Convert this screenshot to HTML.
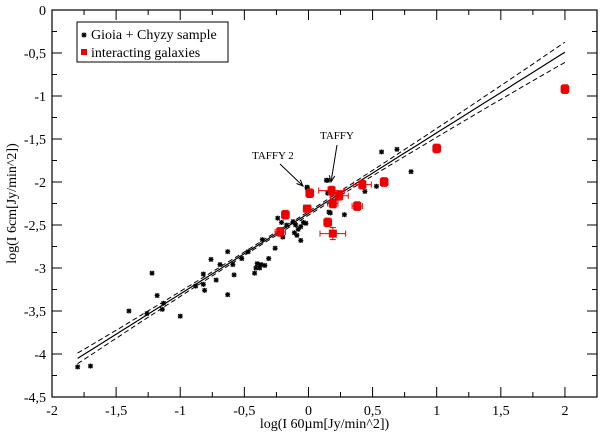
<!DOCTYPE html>
<html><head><meta charset="utf-8"><style>
body{margin:0;background:#fff;}
svg{display:block;}
text{font-family:"Liberation Serif","DejaVu Serif",serif;}
</style></head><body>
<svg id="chart" width="600" height="433" viewBox="0 0 600 433" font-family="Liberation Serif, serif"></svg>
<script>
const xTicks=[-2,-1.5,-1,-0.5,0,0.5,1,1.5,2];
const xTickLabels=["-2","-1,5","-1","-0,5","0","0,5","1","1,5","2"];
const yTicks=[0,-0.5,-1,-1.5,-2,-2.5,-3,-3.5,-4,-4.5];
const yTickLabels=["0","-0,5","-1","-1,5","-2","-2,5","-3","-3,5","-4","-4,5"];
const sampleX=[-1.80,-1.70,-1.40,-1.22,-1.18,-1.26,-1.13,-1.14,-1.00,-0.88,-0.82,-0.81,-0.82,-0.76,-0.72,-0.69,-0.63,-0.63,-0.59,-0.58,-0.52,-0.47,-0.42,-0.40,-0.41,-0.38,-0.37,-0.34,-0.31,-0.36,-0.26,-0.24,-0.21,-0.20,-0.17,-0.12,-0.11,-0.09,-0.06,-0.04,-0.02,-0.01,0.14,0.15,0.17,0.57,0.69,0.80,0.53,0.44,0.28,0.16,0.15,-0.01,-0.06,-0.08,-0.10];
const sampleY=[-4.15,-4.14,-3.50,-3.06,-3.32,-3.53,-3.41,-3.48,-3.56,-3.21,-3.19,-3.26,-3.07,-2.90,-3.14,-2.96,-2.81,-3.31,-2.96,-3.08,-2.89,-2.81,-3.06,-2.95,-3.00,-3.00,-2.96,-2.97,-2.89,-2.67,-2.77,-2.42,-2.47,-2.64,-2.50,-2.46,-2.59,-2.62,-2.68,-2.47,-2.48,-2.06,-1.98,-2.13,-2.36,-1.65,-1.62,-1.88,-2.05,-2.11,-2.38,-2.35,-1.98,-2.07,-2.52,-2.55,-2.50];
const interX=[0.01,0.18,0.24,0.19,0.42,0.59,1.00,0.38,-0.01,-0.18,-0.22,0.15,0.19,2.00];
const interY=[-2.13,-2.10,-2.16,-2.25,-2.03,-2.00,-1.61,-2.28,-2.31,-2.38,-2.58,-2.47,-2.60,-0.92];
const interXErr=[0.03,0.10,0.07,0.04,0.07,0.03,0.03,0.04,0.03,0.03,0.04,0.03,0.10,0.03];
const interYErr=[0.05,0.05,0.05,0.05,0.05,0.05,0.05,0.05,0.04,0.05,0.05,0.05,0.07,0.05];
const fitSlope=0.937, fitIntercept=-2.365;
const fitRange=[-1.8,2.0];

const L=52,R=597,T=10,B=397,XMIN=-2,XMAX=2.25,YMIN=-4.5,YMAX=0;
const sx=v=>L+(v-XMIN)/(XMAX-XMIN)*(R-L);
const sy=v=>T+(YMAX-v)/(YMAX-YMIN)*(B-T);
const svg=document.getElementById('chart');
const NS='http://www.w3.org/2000/svg';
const FF='Liberation Serif, DejaVu Serif, serif';
function mk(tag,attrs,parent){const e=document.createElementNS(NS,tag);for(const k in attrs)e.setAttribute(k,attrs[k]);if(tag==='text')e.setAttribute('font-family',FF);(parent||svg).appendChild(e);return e;}

const frame=mk('rect',{x:L,y:T,width:R-L,height:B-T,fill:'none',stroke:'#000','stroke-width':1.2});



const tg=mk('g',{stroke:'#000','stroke-width':1});


for(let v=-2;v<=2.25+1e-9;v+=0.25){const x=sx(v);const major=Math.abs(v*2-Math.round(v*2))<1e-6;const len=major?10:5;
 mk('line',{x1:x,y1:B,x2:x,y2:B-len},tg);mk('line',{x1:x,y1:T,x2:x,y2:T+len},tg);}
for(let v=0;v>=-4.5-1e-9;v-=0.25){const y=sy(v);const major=Math.abs(v*2-Math.round(v*2))<1e-6;const len=major?10:5;
 mk('line',{x1:L,y1:y,x2:L+len,y2:y},tg);mk('line',{x1:R,y1:y,x2:R-len,y2:y},tg);}
xTicks.forEach((v,i)=>{const t=mk('text',{x:sx(v),y:B+18,'text-anchor':'middle','font-size':14});t.textContent=xTickLabels[i];
 
 });
yTicks.forEach((v,i)=>{const t=mk('text',{x:L-6,y:sy(v)+5,'text-anchor':'end','font-size':14});t.textContent=yTickLabels[i];
 
 });

const xt=mk('text',{x:(L+R)/2,y:428,'text-anchor':'middle','font-size':14});xt.textContent='log(I 60µm[Jy/min^2])';


const yt=mk('text',{x:0,y:0,'text-anchor':'middle','font-size':14,transform:`translate(16,${(T+B)/2}) rotate(-90)`});yt.textContent='log(I 6cm[Jy/min^2])';



const fit=x=>fitSlope*x+fitIntercept;
const band=x=>0.02+0.0185*(x+0.3)*(x+0.3);
function linePath(f){let d='';for(let i=0;i<=60;i++){const x=fitRange[0]+(fitRange[1]-fitRange[0])*i/60;d+=(i?'L':'M')+sx(x).toFixed(1)+','+sy(f(x)).toFixed(1);}return d;}
const fl=mk('path',{d:linePath(fit),fill:'none',stroke:'#000','stroke-width':1.2});


const up=mk('path',{d:linePath(x=>fit(x)+band(x)),fill:'none',stroke:'#000','stroke-width':1,'stroke-dasharray':'5,3'});


const lo=mk('path',{d:linePath(x=>fit(x)-band(x)),fill:'none',stroke:'#000','stroke-width':1,'stroke-dasharray':'5,3'});



function star(x,y,parent){const g=mk('g',{stroke:'#000','stroke-width':1.2},parent);
 mk('line',{x1:x-2.5,y1:y,x2:x+2.5,y2:y},g);mk('line',{x1:x,y1:y-2.5,x2:x,y2:y+2.5},g);
 mk('line',{x1:x-2,y1:y-2,x2:x+2,y2:y+2},g);mk('line',{x1:x-2,y1:y+2,x2:x+2,y2:y-2},g);
 mk('circle',{cx:x,cy:y,r:1.5,fill:'#000',stroke:'none'},g);return g;}
sampleX.forEach((v,i)=>{const c=star(sx(v),sy(sampleY[i]));
 
 });

interX.forEach((v,i)=>{const g=mk('g',{stroke:'#e00','stroke-width':1,fill:'#e00'});
 
 
 const x=sx(v),y=sy(interY[i]),x1=sx(v-interXErr[i]),x2=sx(v+interXErr[i]),y1=sy(interY[i]+interYErr[i]),y2=sy(interY[i]-interYErr[i]);
 mk('line',{x1:x1,y1:y,x2:x2,y2:y},g);mk('line',{x1:x1,y1:y-3,x2:x1,y2:y+3},g);mk('line',{x1:x2,y1:y-3,x2:x2,y2:y+3},g);
 mk('line',{x1:x,y1:y1,x2:x,y2:y2},g);mk('line',{x1:x-3,y1:y1,x2:x+3,y2:y1},g);mk('line',{x1:x-3,y1:y2,x2:x+3,y2:y2},g);
 mk('rect',{x:x-4,y:y-4,width:8,height:8,stroke:'none'},g);});

function arrow(x1,y1,x2,y2,name){const g=mk('g',{stroke:'#000','stroke-width':1,fill:'none'});
 
 
 mk('line',{x1:x1,y1:y1,x2:x2,y2:y2},g);const a=Math.atan2(y2-y1,x2-x1);
 const p=(ang)=>`${x2-7*Math.cos(a+ang)},${y2-7*Math.sin(a+ang)}`;
 mk('polyline',{points:`${p(0.4)} ${x2},${y2} ${p(-0.4)}`},g);}
const t1=mk('text',{x:252,y:159,'font-size':11});t1.textContent='TAFFY 2';


arrow(280,164,303,186,'taffy2-arrow');
const t2=mk('text',{x:320,y:139,'font-size':11});t2.textContent='TAFFY';


arrow(337,145,331,182,'taffy-arrow');

const lg=mk('g',{});


mk('rect',{x:77,y:22,width:151,height:40,fill:'#fff',stroke:'#000','stroke-width':1},lg);
star(84,35,lg);
const l1=mk('text',{x:91,y:39,'font-size':14},lg);l1.textContent='Gioia + Chyzy sample';


mk('rect',{x:81,y:49,width:6,height:6,fill:'#e00'},lg);
const l2=mk('text',{x:91,y:57,'font-size':14},lg);l2.textContent='interacting galaxies';


</script>
</body></html>
